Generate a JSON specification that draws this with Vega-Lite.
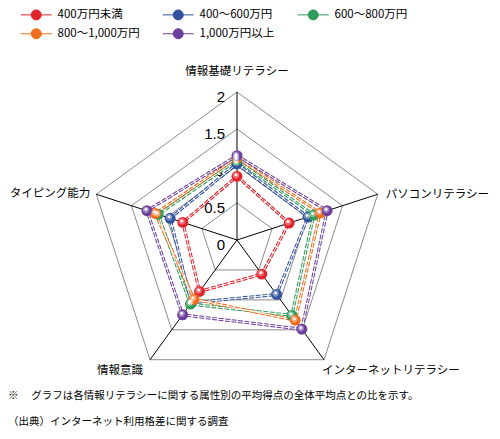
{
  "$schema": "https://vega.github.io/schema/vega-lite/v6.json",
  "width": 500,
  "height": 439,
  "padding": 0,
  "autosize": "none",
  "background": "white",
  "config": {"view": {"stroke": null}},
  "title": {
    "text": ["※　 グラフは各情報リテラシーに関する属性別の平均得点の全体平均点との比を示す。", "（出典）インターネット利用格差に関する調査"],
    "orient": "bottom",
    "anchor": "start",
    "frame": "group",
    "offset": -48,
    "dx": 8,
    "font": "Noto Sans CJK JP",
    "fontSize": 10.5,
    "fontWeight": "normal",
    "lineHeight": 26,
    "color": "black"
  },
  "datasets": {
    "scores": [
      {"group": "400万円未満", "axis": "情報基礎リテラシー", "value": 0.86},
      {"group": "400万円未満", "axis": "パソコンリテラシー", "value": 0.74},
      {"group": "400万円未満", "axis": "インターネットリテラシー", "value": 0.57},
      {"group": "400万円未満", "axis": "情報意識", "value": 0.86},
      {"group": "400万円未満", "axis": "タイピング能力", "value": 0.77},
      {"group": "400～600万円", "axis": "情報基礎リテラシー", "value": 1.03},
      {"group": "400～600万円", "axis": "パソコンリテラシー", "value": 1.01},
      {"group": "400～600万円", "axis": "インターネットリテラシー", "value": 0.91},
      {"group": "400～600万円", "axis": "情報意識", "value": 1.05},
      {"group": "400～600万円", "axis": "タイピング能力", "value": 0.95},
      {"group": "600～800万円", "axis": "情報基礎リテラシー", "value": 1.08},
      {"group": "600～800万円", "axis": "パソコンリテラシー", "value": 1.09},
      {"group": "600～800万円", "axis": "インターネットリテラシー", "value": 1.26},
      {"group": "600～800万円", "axis": "情報意識", "value": 1.07},
      {"group": "600～800万円", "axis": "タイピング能力", "value": 1.12},
      {"group": "800～1,000万円", "axis": "情報基礎リテラシー", "value": 1.11},
      {"group": "800～1,000万円", "axis": "パソコンリテラシー", "value": 1.18},
      {"group": "800～1,000万円", "axis": "インターネットリテラシー", "value": 1.34},
      {"group": "800～1,000万円", "axis": "情報意識", "value": 0.99},
      {"group": "800～1,000万円", "axis": "タイピング能力", "value": 1.16},
      {"group": "1,000万円以上", "axis": "情報基礎リテラシー", "value": 1.14},
      {"group": "1,000万円以上", "axis": "パソコンリテラシー", "value": 1.28},
      {"group": "1,000万円以上", "axis": "インターネットリテラシー", "value": 1.49},
      {"group": "1,000万円以上", "axis": "情報意識", "value": 1.25},
      {"group": "1,000万円以上", "axis": "タイピング能力", "value": 1.28}
    ],
    "grid": [
      {"level": 0.5, "axis": "情報基礎リテラシー"}, {"level": 0.5, "axis": "パソコンリテラシー"}, {"level": 0.5, "axis": "インターネットリテラシー"}, {"level": 0.5, "axis": "情報意識"}, {"level": 0.5, "axis": "タイピング能力"},
      {"level": 1, "axis": "情報基礎リテラシー"}, {"level": 1, "axis": "パソコンリテラシー"}, {"level": 1, "axis": "インターネットリテラシー"}, {"level": 1, "axis": "情報意識"}, {"level": 1, "axis": "タイピング能力"},
      {"level": 1.5, "axis": "情報基礎リテラシー"}, {"level": 1.5, "axis": "パソコンリテラシー"}, {"level": 1.5, "axis": "インターネットリテラシー"}, {"level": 1.5, "axis": "情報意識"}, {"level": 1.5, "axis": "タイピング能力"},
      {"level": 2, "axis": "情報基礎リテラシー"}, {"level": 2, "axis": "パソコンリテラシー"}, {"level": 2, "axis": "インターネットリテラシー"}, {"level": 2, "axis": "情報意識"}, {"level": 2, "axis": "タイピング能力"}
    ],
    "axes": [
      {"axis": "情報基礎リテラシー", "value": 2},
      {"axis": "パソコンリテラシー", "value": 2},
      {"axis": "インターネットリテラシー", "value": 2},
      {"axis": "情報意識", "value": 2},
      {"axis": "タイピング能力", "value": 2}
    ],
    "ticks": [
      {"tick": 0, "label": "0"},
      {"tick": 0.5, "label": "0.5"},
      {"tick": 1, "label": "1"},
      {"tick": 1.5, "label": "1.5"},
      {"tick": 2, "label": "2"}
    ]
  },
  "encoding": {
    "x": {"field": "px", "type": "quantitative", "scale": {"domain": [-3.2027, 3.5541], "nice": false, "zero": false}, "axis": null},
    "y": {"field": "py", "type": "quantitative", "scale": {"domain": [-2.6892, 3.2432], "nice": false, "zero": false}, "axis": null}
  },
  "layer": [
    {
      "data": {"name": "grid"},
      "transform": [
        {"calculate": "indexof(['情報基礎リテラシー','パソコンリテラシー','インターネットリテラシー','情報意識','タイピング能力'], datum.axis)", "as": "k"},
        {"calculate": "PI/2 - 2*PI*datum.k/5", "as": "a"},
        {"calculate": "datum.level*cos(datum.a)", "as": "px"},
        {"calculate": "datum.level*sin(datum.a)", "as": "py"}
      ],
      "mark": {"type": "line", "interpolate": "linear-closed", "color": "#8c8c8c", "strokeWidth": 1},
      "encoding": {"detail": {"field": "level"}, "order": {"field": "k"}}
    },
    {
      "data": {"name": "axes"},
      "transform": [
        {"calculate": "indexof(['情報基礎リテラシー','パソコンリテラシー','インターネットリテラシー','情報意識','タイピング能力'], datum.axis)", "as": "k"},
        {"calculate": "PI/2 - 2*PI*datum.k/5", "as": "a"},
        {"calculate": "datum.value*cos(datum.a)", "as": "px"},
        {"calculate": "datum.value*sin(datum.a)", "as": "py"}
      ],
      "mark": {"type": "rule", "color": "black", "strokeWidth": 1},
      "encoding": {"x2": {"datum": 0}, "y2": {"datum": 0}}
    },
    {
      "data": {"name": "ticks"},
      "transform": [
        {"calculate": "0", "as": "px"},
        {"calculate": "datum.tick", "as": "py"}
      ],
      "mark": {"type": "text", "align": "right", "baseline": "middle", "dx": -12, "dy": 5, "font": "Liberation Sans", "fontSize": 15, "color": "black"},
      "encoding": {"text": {"field": "label"}}
    },
    {
      "data": {"name": "scores"},
      "transform": [
        {"calculate": "indexof(['情報基礎リテラシー','パソコンリテラシー','インターネットリテラシー','情報意識','タイピング能力'], datum.axis)", "as": "k"},
        {"calculate": "PI/2 - 2*PI*datum.k/5", "as": "a"},
        {"calculate": "datum.value*cos(datum.a)", "as": "px"},
        {"calculate": "datum.value*sin(datum.a)", "as": "py"}
      ],
      "layer": [
        {
          "mark": {"type": "line", "interpolate": "linear-closed", "strokeWidth": 3, "strokeDash": [5, 1.5]},
          "encoding": {
            "order": {"field": "k"},
            "color": {
              "field": "group", "type": "nominal",
              "scale": {
                "domain": ["400万円未満", "400～600万円", "600～800万円", "800～1,000万円", "1,000万円以上"],
                "range": ["#e2242c", "#34539f", "#2e9c5c", "#f06c1c", "#6c3f9c"]
              },
              "legend": {
                "orient": "none", "legendX": 20, "legendY": 9, "direction": "horizontal", "columns": 3, "columnPadding": 20, "rowPadding": 4,
                "title": null, "labelFont": "Noto Sans CJK JP", "labelFontSize": 11.5, "labelOffset": 26, "labelColor": "black",
                "symbolSize": 100, "symbolStrokeWidth": 1,
                "symbolType": "M-1,0L1.1,0M3.1,0L5.2,0M1.1,0A1,1,0,1,1,3.1,0A1,1,0,1,1,1.1,0Z",
                "encode": {"symbols": {"update": {"fill": {"scale": "color", "field": "value"}, "stroke": {"scale": "color", "field": "value"}, "opacity": {"value": 1}}}}
              }
            }
          }
        },
        {
          "mark": {"type": "line", "interpolate": "linear-closed", "strokeWidth": 1, "color": "white"},
          "encoding": {"order": {"field": "k"}, "detail": {"field": "group"}}
        },
        {
          "mark": {"type": "point", "shape": "circle", "filled": true, "size": 120, "opacity": 1},
          "encoding": {"color": {"field": "group", "type": "nominal"}}
        },
        {
          "mark": {"type": "point", "shape": "circle", "filled": true, "size": 40, "color": "white", "opacity": 0.35, "xOffset": -1, "yOffset": -1}
        },
        {
          "mark": {"type": "point", "shape": "circle", "filled": true, "size": 9, "color": "white", "opacity": 0.9, "xOffset": -1, "yOffset": -1.5}
        }
      ]
    },
    {
      "data": {"name": "axes"},
      "transform": [
        {"filter": "datum.axis == '情報基礎リテラシー'"},
        {"calculate": "0", "as": "px"},
        {"calculate": "datum.value", "as": "py"}
      ],
      "mark": {"type": "text", "align": "center", "baseline": "middle", "dy": -20, "font": "Noto Sans CJK JP", "fontSize": 11.5, "color": "black"},
      "encoding": {"text": {"field": "axis"}}
    },
    {
      "data": {"name": "axes"},
      "transform": [
        {"filter": "datum.axis == 'パソコンリテラシー'"},
        {"calculate": "datum.value*cos(PI/2 - 2*PI/5)", "as": "px"},
        {"calculate": "datum.value*sin(PI/2 - 2*PI/5)", "as": "py"}
      ],
      "mark": {"type": "text", "align": "left", "baseline": "middle", "dx": 8, "dy": 1, "font": "Noto Sans CJK JP", "fontSize": 11.5, "color": "black"},
      "encoding": {"text": {"field": "axis"}}
    },
    {
      "data": {"name": "axes"},
      "transform": [
        {"filter": "datum.axis == 'インターネットリテラシー'"},
        {"calculate": "datum.value*cos(PI/2 - 4*PI/5)", "as": "px"},
        {"calculate": "datum.value*sin(PI/2 - 4*PI/5)", "as": "py"}
      ],
      "mark": {"type": "text", "align": "left", "baseline": "middle", "dx": -2, "dy": 11, "font": "Noto Sans CJK JP", "fontSize": 11.5, "color": "black"},
      "encoding": {"text": {"field": "axis"}}
    },
    {
      "data": {"name": "axes"},
      "transform": [
        {"filter": "datum.axis == '情報意識'"},
        {"calculate": "datum.value*cos(PI/2 - 6*PI/5)", "as": "px"},
        {"calculate": "datum.value*sin(PI/2 - 6*PI/5)", "as": "py"}
      ],
      "mark": {"type": "text", "align": "right", "baseline": "middle", "dx": -7, "dy": 11, "font": "Noto Sans CJK JP", "fontSize": 11.5, "color": "black"},
      "encoding": {"text": {"field": "axis"}}
    },
    {
      "data": {"name": "axes"},
      "transform": [
        {"filter": "datum.axis == 'タイピング能力'"},
        {"calculate": "datum.value*cos(PI/2 - 8*PI/5)", "as": "px"},
        {"calculate": "datum.value*sin(PI/2 - 8*PI/5)", "as": "py"}
      ],
      "mark": {"type": "text", "align": "right", "baseline": "middle", "dx": -6, "font": "Noto Sans CJK JP", "fontSize": 11.5, "color": "black"},
      "encoding": {"text": {"field": "axis"}}
    }
  ]
}
